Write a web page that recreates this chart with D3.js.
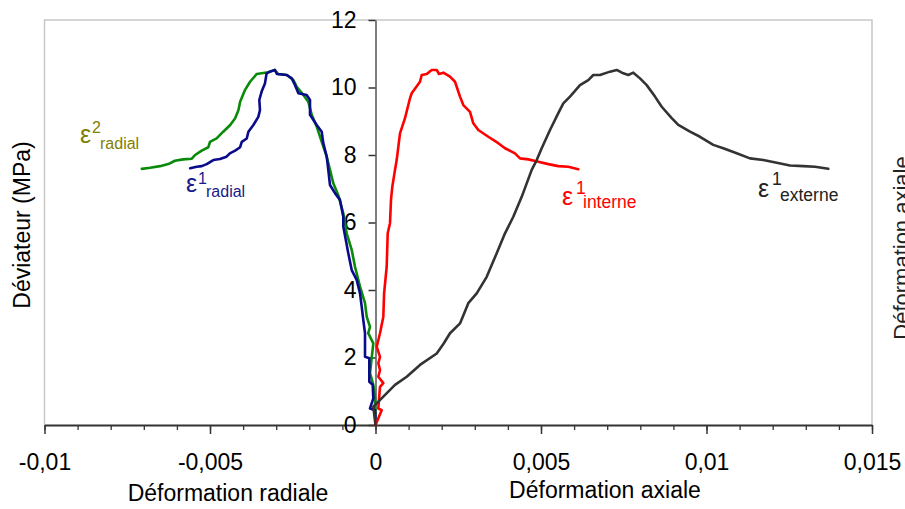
<!DOCTYPE html>
<html>
<head>
<meta charset="utf-8">
<script src="https://cdn.jsdelivr.net/npm/d3@7"></script>
<style>
  html, body { margin: 0; padding: 0; background: #fff; overflow: hidden; }
  svg { display: block; }
  text { font-family: "Liberation Sans", Arial, sans-serif; }
</style>
</head>
<body>
<svg id="chart" width="905" height="509"></svg>
<script>
// ---- Data (strain, deviator MPa) ----
const xTicksMajor = [-0.01, -0.005, 0, 0.005, 0.01, 0.015];
const xTickLabels = ["-0,01", "-0,005", "0", "0,005", "0,01", "0,015"];
const yTicks = [0, 2, 4, 6, 8, 10, 12];

const radial2 = [ // ε² radial (green)
  [0,0],[-0.000015,0.80],[-0.000066,1.19],[-0.000166,1.54],[-0.000115,1.99],[-0.000066,2.42],
  [-0.00022,2.72],[-0.000166,2.91],[-0.000266,3.21],[-0.000317,3.61],[-0.000468,4.10],
  [-0.000619,4.69],[-0.000719,5.19],[-0.00087,5.68],[-0.000973,6.27],[-0.001124,6.81],
  [-0.001275,7.16],[-0.001375,7.56],[-0.001474,7.95],[-0.001625,8.39],[-0.001776,8.84],
  [-0.001927,9.19],[-0.00203,9.58],[-0.00218,9.78],[-0.00238,10.02],[-0.00248,10.22],
  [-0.00268,10.37],[-0.00294,10.40],[-0.00304,10.52],[-0.00324,10.45],[-0.00344,10.42],
  [-0.00359,10.40],[-0.00379,10.17],[-0.00394,9.93],[-0.00409,9.58],[-0.00414,9.33],
  [-0.00424,9.09],[-0.00439,8.89],[-0.00460,8.69],[-0.00480,8.49],[-0.00500,8.39],
  [-0.00505,8.23],[-0.00525,8.13],[-0.00545,8.00],[-0.00555,7.89],[-0.00581,7.87],
  [-0.00606,7.83],[-0.00626,7.73],[-0.00651,7.67],[-0.00681,7.62],[-0.00706,7.59]
];
const radial1 = [ // ε¹ radial (navy)
  [0,0],[-0.000015,0.44],[-0.000166,0.49],[-0.000066,0.79],[-0.000085,1.19],[-0.000187,1.28],
  [-0.000187,1.98],[-0.000317,2.02],[-0.000317,2.72],[-0.000369,3.11],[-0.000417,3.51],
  [-0.000468,3.90],[-0.000568,4.30],[-0.000719,4.59],[-0.000822,5.09],[-0.000973,5.88],
  [-0.000973,6.17],[-0.001073,6.67],[-0.001224,6.87],[-0.001375,7.11],[-0.001426,7.56],
  [-0.001474,7.95],[-0.001577,8.35],[-0.001625,8.69],[-0.001776,8.89],[-0.001979,9.19],
  [-0.001979,9.63],[-0.00208,9.78],[-0.00233,9.83],[-0.00243,10.07],[-0.00253,10.27],
  [-0.00268,10.37],[-0.00298,10.40],[-0.00304,10.52],[-0.00319,10.47],[-0.00329,10.42],
  [-0.00334,10.12],[-0.00344,9.88],[-0.00351,9.63],[-0.00349,9.33],[-0.00354,9.13],
  [-0.00369,8.89],[-0.00384,8.69],[-0.00389,8.49],[-0.00404,8.39],[-0.00409,8.23],
  [-0.00424,8.13],[-0.00440,8.05],[-0.00450,7.95],[-0.00470,7.88],[-0.00490,7.85],
  [-0.00510,7.73],[-0.00525,7.67],[-0.00540,7.65],[-0.00560,7.61]
];
const interne1 = [ // ε¹ interne (red)
  [0,0],[0.000187,0.44],[0.000085,0.49],[0.000136,1.13],[0.000236,1.24],[0.000085,1.43],
  [0.000136,1.63],[0.000085,1.83],[0.000136,2.02],[0.000036,2.32],[0.000136,2.72],
  [0.000236,3.21],[0.000260,3.90],[0.000338,4.69],[0.000369,5.68],[0.000438,5.98],
  [0.000468,6.67],[0.000508,7.06],[0.000589,7.56],[0.000640,7.85],[0.000740,8.64],
  [0.000891,9.09],[0.001042,9.68],[0.001094,9.83],[0.001344,10.17],[0.001396,10.37],
  [0.001547,10.40],[0.001698,10.52],[0.001849,10.52],[0.001918,10.40],[0.002051,10.44],
  [0.002251,10.32],[0.002402,10.17],[0.002553,9.73],[0.002653,9.48],[0.002855,9.28],
  [0.002955,8.94],[0.003106,8.74],[0.003408,8.54],[0.003710,8.35],[0.003912,8.20],
  [0.004215,8.05],[0.004366,7.90],[0.004616,7.87],[0.004918,7.80],[0.005221,7.73],
  [0.005523,7.67],[0.005825,7.65],[0.006127,7.58]
];
const externe1 = [ // ε¹ externe (dark grey)
  [0,0],[-0.000066,0.54],[0.000036,0.64],[0.000236,0.84],[0.000589,1.19],[0.000943,1.43],
  [0.001344,1.78],[0.001849,2.12],[0.002050,2.40],[0.002251,2.72],[0.002553,3.01],[0.002804,3.61],
  [0.003057,3.90],[0.003360,4.39],[0.003662,5.09],[0.003912,5.68],[0.004163,6.17],
  [0.004417,6.76],[0.004568,7.16],[0.004719,7.56],[0.004870,7.85],[0.005021,8.20],
  [0.005272,8.74],[0.005523,9.24],[0.005674,9.53],[0.005876,9.73],[0.006178,10.07],
  [0.006429,10.22],[0.006580,10.37],[0.006782,10.37],[0.007085,10.47],[0.007287,10.52],
  [0.007486,10.42],[0.007637,10.37],[0.007789,10.44],[0.007991,10.27],[0.008193,10.07],
  [0.008444,9.73],[0.008647,9.43],[0.008949,9.09],[0.009148,8.89],[0.009502,8.69],
  [0.009804,8.54],[0.010205,8.30],[0.010507,8.20],[0.010912,8.05],[0.011314,7.90],
  [0.011716,7.85],[0.012121,7.77],[0.012523,7.69],[0.012924,7.67],[0.013278,7.65],
  [0.013680,7.59]
];

const seriesList = [
  { data: radial2, color: "#0a8a0a" },
  { data: radial1, color: "#0a0a8c" },
  { data: interne1, color: "#ff0000" },
  { data: externe1, color: "#333333" }
];

const labels = [
  { sup: "2", sub: "radial", color: "#808000", x: 80, y: 143, supDx: 12, supY: 133, subY: 149, subX: 100, subSize: 16 },
  { sup: "1", sub: "radial", color: "#1a1a8c", x: 186, y: 192, supDx: 12, supY: 184, subY: 197, subX: 206, subSize: 16 },
  { sup: "1", sub: "interne", color: "#ff0000", x: 562, y: 205, supDx: 14, supY: 194, subY: 208, subX: 583, subSize: 17.5 },
  { sup: "1", sub: "externe", color: "#222222", x: 758, y: 197, supDx: 14, supY: 185, subY: 201, subX: 780, subSize: 17.5 }
];

// ---- Chart ----
const svg = d3.select("#chart");
const x = d3.scaleLinear().domain([-0.01, 0.015]).range([44.5, 872]);
const y = d3.scaleLinear().domain([0, 12]).range([425, 20]);

// light frame
svg.append("path")
  .attr("d", `M${x(-0.01)},${y(0)}V${y(12)}H${x(0.015)}V${y(0)}`)
  .attr("fill", "none").attr("stroke", "#c8c8c8").attr("stroke-width", 1.5);

// minor x ticks
const minorTicks = d3.range(-10, 16).map(i => i / 1000);
svg.append("g").attr("transform", `translate(0,${y(0)})`)
  .call(d3.axisBottom(x).tickValues(minorTicks).tickSize(5).tickSizeOuter(0).tickFormat(""))
  .call(g => g.select(".domain").remove())
  .call(g => g.selectAll("line").attr("stroke", "#333").attr("stroke-width", 1.3));

// major x axis
const xAxis = svg.append("g").attr("transform", `translate(0,${y(0)})`)
  .call(d3.axisBottom(x).tickValues(xTicksMajor).tickSize(9).tickSizeOuter(0)
    .tickFormat((d, i) => xTickLabels[i]).tickPadding(20));
xAxis.select(".domain").attr("stroke", "#333").attr("stroke-width", 2);
xAxis.selectAll("line").attr("stroke", "#333").attr("stroke-width", 1.5);
xAxis.selectAll("text").attr("font-size", 23).attr("fill", "#000")
  .attr("font-family", "Liberation Sans, Arial, sans-serif");

// y axis at x=0
const yAxis = svg.append("g").attr("transform", `translate(${x(0)},0)`)
  .call(d3.axisLeft(y).tickValues(yTicks).tickSize(7).tickSizeOuter(0).tickPadding(12));
yAxis.select(".domain").attr("stroke", "#555").attr("stroke-width", 1.5);
yAxis.selectAll("line").attr("stroke", "#333").attr("stroke-width", 1.5);
yAxis.selectAll("text").attr("font-size", 23).attr("fill", "#000")
  .attr("font-family", "Liberation Sans, Arial, sans-serif");

// curves
const line = d3.line().x(d => x(d[0])).y(d => y(d[1])).curve(d3.curveLinear);
svg.append("g").selectAll("path").data(seriesList).join("path")
  .attr("d", s => line(s.data))
  .attr("fill", "none")
  .attr("stroke", s => s.color)
  .attr("stroke-width", 2.6)
  .attr("stroke-linejoin", "round")
  .attr("stroke-linecap", "round");

// curve labels
labels.forEach(l => {
  const g = svg.append("g").attr("fill", l.color);
  g.append("text").attr("x", l.x).attr("y", l.y).attr("font-size", 25).text("ε");
  g.append("text").attr("x", l.x + l.supDx).attr("y", l.supY).attr("font-size", l.subSize).text(l.sup);
  g.append("text").attr("x", l.subX).attr("y", l.subY).attr("font-size", l.subSize).text(l.sub);
});

// axis titles
svg.append("text").attr("x", 228).attr("y", 501).attr("text-anchor", "middle")
  .attr("font-size", 23).text("Déformation radiale");
svg.append("text").attr("x", 605).attr("y", 498).attr("text-anchor", "middle")
  .attr("font-size", 23).text("Déformation axiale");
svg.append("text").attr("transform", "translate(30,225) rotate(-90)").attr("text-anchor", "middle")
  .attr("font-size", 23).text("Déviateur (MPa)");
// secondary axis title, partly outside the picture as in the reference
svg.append("text").attr("transform", "translate(909,248) rotate(-90)").attr("text-anchor", "middle")
  .attr("font-size", 22).attr("fill", "#222")
  .attr("font-family", "DejaVu Sans, sans-serif").text("Déformation axiale");
</script>
</body>
</html>
